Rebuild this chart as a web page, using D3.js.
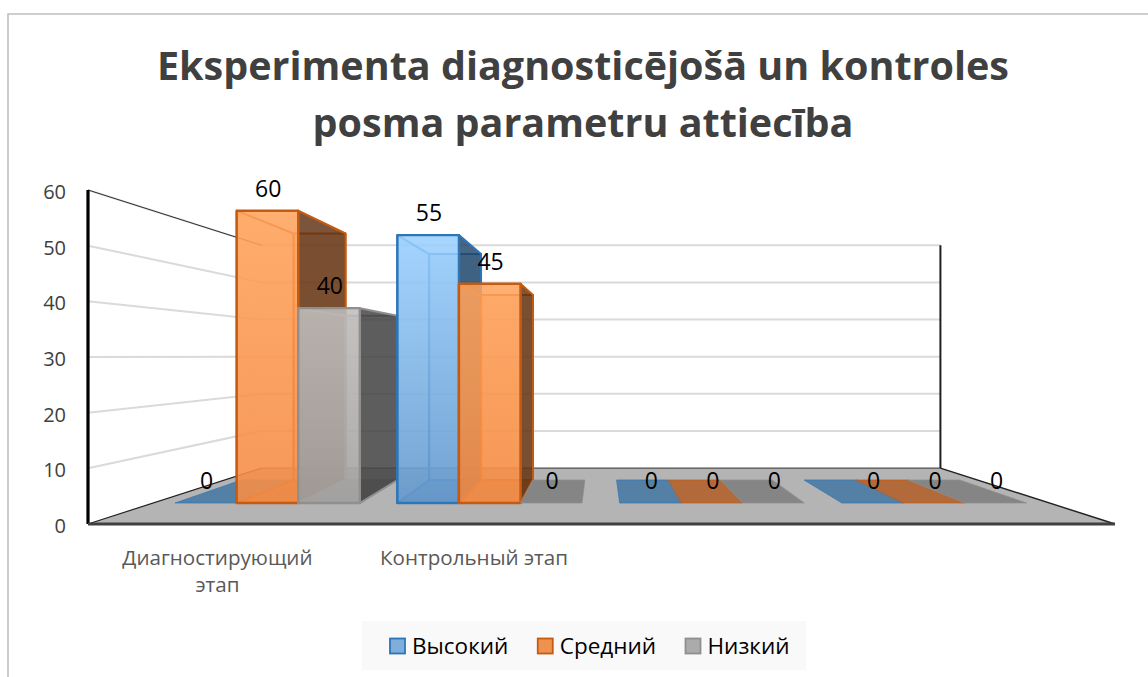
<!DOCTYPE html>
<html><head><meta charset="utf-8">
<script src="https://cdn.jsdelivr.net/npm/d3@7"></script>
<style>html,body{margin:0;padding:0;background:#fff}svg{display:block}text{font-family:"Open Sans",sans-serif}</style>
</head><body><div id="chart"></div>
<script>
const categories = ["Диагностирующий\nэтап", "Контрольный этап", "", ""];
const seriesNames = ["Высокий", "Средний", "Низкий"];
const high = [0, 55, 0, 0];
const medium = [60, 45, 0, 0];
const low = [40, 0, 0, 0];
const yTicks = [0, 10, 20, 30, 40, 50, 60];
const titleLines = ["Eksperimenta diagnosticējošā un kontroles", "posma parametru attiecība"];

const W = 1148, H = 677;
const svg = d3.select("#chart").append("svg").attr("width", W).attr("height", H);

const series = [
  {name: seriesNames[0], values: high, top: "#9AD0FF", bottom: "#6498CC", side: "#1F4468", back: "#7FB5E6", stroke: "#2E75B6", swatch: "#7FAEDD", flat: "#5580A6"},
  {name: seriesNames[1], values: medium, top: "#FFA35C", bottom: "#F58C45", side: "#5E3010", back: "#F09050", stroke: "#C55A11", swatch: "#F0924F", flat: "#B26A3A"},
  {name: seriesNames[2], values: low, top: "#C0BDBB", bottom: "#A5A3A1", side: "#404040", back: "#A5A5A5", stroke: "#8F8F8F", swatch: "#ABABAB", flat: "#858585"}
];

const yScale = d3.scaleLinear().domain([0, 60]).range([524, 190]);
const xMin = 88, xMax = 1115;
const xBand = d3.scaleBand().domain(d3.range(categories.length)).range([89, 1113]).paddingInner(0.169).paddingOuter(0.1);
const xSeries = d3.scaleBand().domain(d3.range(series.length)).range([0, xBand.bandwidth()]);

const cx = 600, horizon = 356;
const planes = {front: {sx: 1, sy: 1}, barFront: {sx: 0.875, sy: 0.875}, barBack: {sx: 0.738, sy: 0.738}, wall: {sx: 0.661, sy: 0.667}};
const proj = (X, v, p) => [cx + (X - cx) * p.sx, horizon + (yScale(v) - horizon) * p.sy];
const line = d3.line();
const poly = pts => line(pts) + "Z";

// frame
svg.append("path").attr("d", line([[8, H], [8, 14], [W, 14]])).attr("fill", "none").attr("stroke", "#BFBFBF").attr("stroke-width", 1.6);

// title
svg.append("g").selectAll("text").data(titleLines).join("text")
  .attr("x", 583).attr("y", (d, i) => 80 + i * 57).attr("text-anchor", "middle")
  .attr("font-size", 39.5).attr("font-weight", 700).attr("fill", "#404040").text(d => d);

const yMax = yScale.domain()[1];

// gradients
const defs = svg.append("defs");
series.forEach((s, i) => {
  const g = defs.append("linearGradient").attr("id", "grad" + i).attr("x1", 0).attr("y1", 0).attr("x2", 0).attr("y2", 1);
  g.append("stop").attr("offset", 0).attr("stop-color", s.top);
  g.append("stop").attr("offset", 1).attr("stop-color", s.bottom);
});

// floor
svg.append("path").attr("d", poly([proj(xMin, 0, planes.front), proj(xMax, 0, planes.front), proj(xMax, 0, planes.wall), proj(xMin, 0, planes.wall)])).attr("fill", "#B4B4B4");

// gridlines
const grid = svg.append("g");
yTicks.filter(t => t > 0).forEach(t => {
  grid.append("path").attr("d", line([proj(xMin, t, planes.front), proj(xMin, t, planes.wall), proj(xMax, t, planes.wall)]))
    .attr("fill", "none").attr("stroke", "#DADADA").attr("stroke-width", 2);
});

// wall edges
const edges = svg.append("g").attr("fill", "none");
edges.append("path").attr("d", line([proj(xMin, yMax, planes.front), proj(xMin, yMax, planes.wall)])).attr("stroke", "#303030").attr("stroke-width", 1);
edges.append("path").attr("d", line([proj(xMin, 0, planes.front), proj(xMin, 0, planes.wall)])).attr("stroke", "#202020").attr("stroke-width", 1.2);
edges.append("path").attr("d", line([proj(xMin, 0, planes.wall), proj(xMax, 0, planes.wall)])).attr("stroke", "#505050").attr("stroke-width", 1.2);
edges.append("path").attr("d", line([proj(xMax, 0, planes.wall), proj(xMax, 0, planes.front)])).attr("stroke", "#202020").attr("stroke-width", 1.4);
edges.append("path").attr("d", line([proj(xMax, 0, planes.wall), proj(xMax, yMax, planes.wall)])).attr("stroke", "#202020").attr("stroke-width", 2);
edges.append("path").attr("d", line([proj(xMin, 0, planes.front), proj(xMin, yMax, planes.front)])).attr("stroke", "#000").attr("stroke-width", 3.2);
edges.append("path").attr("d", line([proj(xMin, 0, planes.front), proj(xMax, 0, planes.front)])).attr("stroke", "#404040").attr("stroke-width", 3);

// bars
const bars = svg.append("g");
const labels = [];
categories.forEach((c, ci) => {
  series.forEach((s, si) => {
    const v = s.values[ci];
    const x0 = xBand(ci) + xSeries(si), x1 = x0 + xSeries.bandwidth();
    const F = planes.barFront, B = planes.barBack;
    const g = bars.append("g").attr("stroke", s.stroke).attr("stroke-linejoin", "round");
    if (v === 0) {
      g.append("path").attr("d", poly([proj(x0, 0, F), proj(x1, 0, F), proj(x1, 0, B), proj(x0, 0, B)]))
        .attr("fill", s.flat).attr("stroke-width", 1).attr("stroke-opacity", 0.7);
    } else {
      g.append("path").attr("d", poly([proj(x0, 0, B), proj(x1, 0, B), proj(x1, v, B), proj(x0, v, B)]))
        .attr("fill", s.back).attr("fill-opacity", 0.35).attr("stroke-width", 2);
      g.append("path").attr("d", poly([proj(x0, 0, F), proj(x1, 0, F), proj(x1, 0, B), proj(x0, 0, B)]))
        .attr("fill", s.flat).attr("fill-opacity", 0.7).attr("stroke-width", 1.5);
      g.append("path").attr("d", poly([proj(x0, 0, F), proj(x0, v, F), proj(x0, v, B), proj(x0, 0, B)]))
        .attr("fill", s.back).attr("fill-opacity", 0.2).attr("stroke-width", 2);
      g.append("path").attr("d", poly([proj(x1, 0, F), proj(x1, v, F), proj(x1, v, B), proj(x1, 0, B)]))
        .attr("fill", s.side).attr("fill-opacity", 0.82).attr("stroke-width", 2);
      g.append("path").attr("d", poly([proj(x0, 0, F), proj(x1, 0, F), proj(x1, v, F), proj(x0, v, F)]))
        .attr("fill", `url(#grad${si})`).attr("fill-opacity", 0.87).attr("stroke-width", 2.4);
    }
    const p = proj((x0 + x1) / 2, v, F);
    labels.push({x: p[0], y: p[1], v});
  });
});

// data labels
svg.append("g").selectAll("text").data(labels).join("text")
  .attr("x", d => d.x + 0.8).attr("y", d => d.y - 14).attr("text-anchor", "middle")
  .attr("font-size", 23).attr("fill", "#000").text(d => d.v);

// y axis
const axis = svg.append("g").attr("transform", `translate(${xMin},2)`)
  .call(d3.axisLeft(yScale).tickValues(yTicks).tickSize(0).tickPadding(22));
axis.select(".domain").remove();
axis.selectAll("text").attr("font-size", 20).attr("fill", "#404040").style("font-family", '"Open Sans",sans-serif');

// category labels
const cat = svg.append("g").attr("text-anchor", "middle").attr("font-size", 20.6).attr("fill", "#595959");
categories.forEach((c, ci) => {
  c.split("\n").filter(Boolean).forEach((t, i) => {
    cat.append("text").attr("x", xBand(ci) + xBand.bandwidth() / 2 - (ci === 0 ? 2.5 : 0)).attr("y", 565 + i * 27).text(t);
  });
});

// legend
svg.append("rect").attr("x", 362).attr("y", 621).attr("width", 444).attr("height", 49).attr("fill", "#F9F9F9");
const legendX = d3.scalePoint().domain(seriesNames).range([390, 685.5]);
const legend = svg.append("g").selectAll("g").data(series).join("g").attr("transform", d => `translate(${legendX(d.name)},638.5)`);
legend.append("rect").attr("width", 15).attr("height", 15).attr("fill", d => d.swatch).attr("stroke", d => d.stroke).attr("stroke-width", 1.8);
legend.append("text").attr("x", 22).attr("y", 15).attr("font-size", 22.5).attr("fill", "#000").text(d => d.name);
</script></body></html>
